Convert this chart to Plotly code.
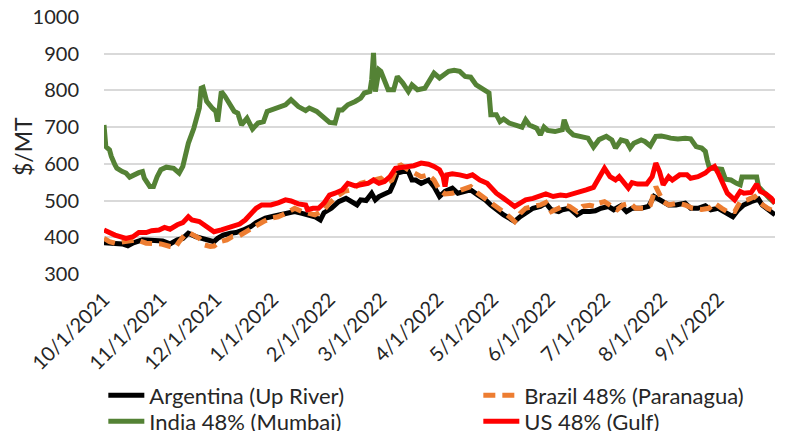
from datetime import date, timedelta
import plotly.graph_objects as go

START = date(2021, 10, 1)
END = date(2022, 10, 2)

# x-axis tick dates (first of each month)
tick_dates = [date(2021, 10, 1), date(2021, 11, 1), date(2021, 12, 1), date(2022, 1, 1),
              date(2022, 2, 1), date(2022, 3, 1), date(2022, 4, 1), date(2022, 5, 1),
              date(2022, 6, 1), date(2022, 7, 1), date(2022, 8, 1), date(2022, 9, 1)]

# Argentina (Up River): day offset from 10/1/2021, $/MT
arg_days = [0, 5, 10, 13, 16, 21, 27, 32, 36, 40, 43, 46, 50, 53, 56, 60, 62, 65, 69, 72, 76, 80, 83, 88, 93,
            99, 104, 108, 111, 115, 118, 120, 124, 128, 132, 138, 140, 143, 146, 148, 150, 153, 156, 158, 160,
            163, 166, 168, 170, 173, 177, 180, 183, 186, 190, 193, 197, 200, 204, 208, 211, 214, 218, 221, 224,
            227, 230, 234, 238, 241, 244, 248, 250, 254, 258, 261, 265, 268, 271, 275, 278, 282, 285, 288, 293,
            297, 300, 304, 308, 312, 317, 320, 324, 328, 331, 335, 338, 343, 346, 349, 353, 357, 359, 363, 366]
arg_vals = [385, 384, 382, 377, 385, 393, 393, 390, 382, 393, 397, 411, 402, 397, 393, 388, 397, 406, 411, 413,
            420, 429, 440, 452, 458, 465, 470, 465, 461, 456, 447, 467, 479, 497, 506, 488, 502, 500, 520, 502,
            511, 518, 525, 547, 575, 579, 579, 556, 556, 547, 556, 538, 511, 525, 534, 520, 525, 529, 515, 502,
            488, 475, 461, 452, 443, 456, 465, 479, 484, 493, 475, 470, 475, 479, 461, 470, 470, 472, 479, 484,
            475, 486, 470, 479, 479, 484, 511, 500, 488, 488, 493, 479, 479, 486, 475, 479, 470, 456, 475, 488,
            497, 504, 488, 470, 461]

# Brazil 48% (Paranagua)
bra_days = [0, 3, 6, 12, 18, 23, 27, 31, 36, 39, 41, 44, 47, 50, 52, 55, 58, 60, 63, 67, 70, 73, 76, 79, 83, 87,
            91, 95, 99, 104, 108, 111, 115, 120, 123, 127, 131, 135, 140, 144, 148, 151, 154, 157, 160, 162, 166,
            169, 173, 177, 180, 183, 186, 190, 193, 197, 200, 204, 208, 211, 215, 219, 222, 224, 227, 230, 234,
            238, 241, 244, 248, 251, 254, 258, 261, 265, 268, 270, 273, 277, 280, 283, 287, 290, 295, 298, 301,
            305, 308, 313, 317, 321, 326, 330, 333, 337, 340, 344, 347, 351, 355, 358, 362, 366]
bra_vals = [397, 388, 384, 388, 393, 384, 382, 382, 375, 373, 388, 406, 411, 402, 397, 379, 375, 376, 388, 393,
            402, 402, 411, 420, 434, 443, 452, 456, 465, 479, 470, 465, 461, 475, 493, 511, 525, 529, 547, 552,
            556, 561, 547, 556, 593, 597, 584, 575, 565, 570, 556, 529, 518, 520, 525, 534, 538, 520, 506, 493,
            479, 465, 452, 443, 465, 479, 484, 488, 495, 470, 479, 488, 484, 470, 484, 487, 484, 493, 497, 484,
            475, 488, 493, 479, 479, 488, 538, 497, 488, 493, 488, 479, 476, 479, 493, 479, 470, 470, 497, 502,
            511, 493, 479, 470]

# India 48% (Mumbai)
ind_days = [0, 1, 3, 4, 6, 7, 10, 12, 14, 16, 19, 21, 22, 25, 27, 29, 31, 34, 38, 41, 43, 46, 49, 52, 53, 54, 56,
            59, 61, 62, 64, 66, 68, 71, 73, 75, 78, 81, 84, 87, 89, 94, 97, 99, 102, 106, 110, 112, 116, 120, 123,
            126, 128, 130, 133, 137, 140, 142, 145, 146, 147, 148, 150, 151, 153, 155, 158, 160, 163, 166, 168,
            171, 175, 178, 180, 183, 188, 191, 194, 197, 200, 203, 207, 210, 211, 214, 216, 218, 221, 225, 228,
            230, 232, 236, 238, 240, 242, 246, 250, 251, 253, 256, 259, 261, 264, 267, 270, 274, 277, 279, 282,
            285, 287, 289, 293, 295, 298, 301, 304, 307, 309, 313, 317, 320, 323, 326, 328, 329, 330, 332, 337,
            339, 342, 345, 347, 348, 352, 356, 357, 360, 363, 366]
ind_vals = [706, 647, 638, 620, 597, 588, 579, 575, 564, 570, 576, 579, 561, 538, 538, 565, 584, 591, 588, 575,
            593, 656, 697, 752, 806, 808, 770, 752, 743, 715, 797, 784, 765, 743, 738, 706, 724, 695, 711, 715,
            743, 752, 761, 761, 775, 756, 745, 752, 743, 724, 713, 711, 747, 747, 761, 770, 779, 793, 797, 829,
            902, 797, 856, 852, 825, 802, 802, 838, 820, 797, 815, 802, 806, 834, 847, 834, 852, 855, 852, 838,
            836, 815, 802, 793, 734, 734, 715, 722, 711, 704, 700, 720, 706, 697, 679, 700, 691, 688, 693, 720,
            693, 679, 675, 675, 670, 646, 666, 675, 665, 643, 665, 661, 643, 656, 665, 661, 649, 675, 676, 673,
            670, 668, 670, 668, 647, 643, 634, 611, 593, 588, 585, 558, 556, 547, 543, 564, 564, 564, 538, 520,
            506, 493]

# US 48% (Gulf)
us_days = [0, 3, 6, 12, 16, 19, 23, 26, 30, 33, 36, 40, 43, 46, 48, 52, 56, 60, 64, 67, 70, 74, 77, 80, 83, 86,
           91, 95, 99, 102, 106, 110, 111, 114, 117, 120, 123, 126, 130, 133, 137, 140, 144, 147, 150, 153, 156,
           159, 162, 166, 169, 173, 177, 180, 183, 185, 186, 187, 190, 194, 198, 201, 205, 209, 211, 214, 218, 221,
           224, 227, 230, 234, 238, 241, 245, 249, 252, 256, 259, 263, 267, 270, 273, 276, 279, 281, 284, 286,
           288, 291, 296, 299, 301, 303, 305, 308, 310, 314, 318, 320, 324, 328, 330, 333, 335, 338, 340, 344,
           347, 349, 353, 356, 358, 361, 364, 366]
us_vals = [420, 413, 406, 397, 402, 413, 413, 418, 420, 427, 422, 434, 440, 456, 447, 443, 429, 415, 420, 425,
           431, 436, 447, 461, 479, 488, 488, 494, 502, 499, 491, 488, 475, 479, 479, 493, 515, 520, 529, 547,
           540, 543, 547, 556, 547, 552, 565, 588, 590, 593, 595, 602, 599, 593, 584, 565, 538, 570, 573, 570,
           565, 570, 556, 547, 534, 520, 506, 493, 484, 493, 502, 506, 511, 518, 511, 515, 513, 518, 525, 529,
           536, 565, 588, 565, 556, 565, 547, 534, 549, 545, 545, 565, 602, 579, 543, 565, 556, 570, 570, 561,
           565, 575, 584, 593, 575, 538, 520, 502, 525, 520, 522, 545, 525, 518, 506, 493]

series = [
    ("Argentina (Up River)", arg_days, arg_vals, "#000000", "solid", "legend"),
    ("Brazil 48% (Paranagua)", bra_days, bra_vals, "#ED7D31", "12px,7px", "legend"),
    ("India 48% (Mumbai)", ind_days, ind_vals, "#548235", "solid", "legend2"),
    ("US 48% (Gulf)", us_days, us_vals, "#FF0000", "solid", "legend2"),
]

FONT = "Lato, Calibri, Carlito, sans-serif"
TXT = "#262626"

fig = go.Figure()
for name, days, vals, color, dash, leg in series:
    fig.add_trace(go.Scatter(
        x=[START + timedelta(days=d) for d in days],
        y=vals,
        mode="lines",
        name=name,
        legend=leg,
        line=dict(color=color, width=5, dash=dash),
    ))

legend_common = dict(
    orientation="h", x=-0.001, xanchor="left", yanchor="middle",
    entrywidth=324, entrywidthmode="pixels", itemwidth=36,
    font=dict(family=FONT, size=22, color=TXT),
    tracegroupgap=0, itemclick=False, bgcolor="rgba(0,0,0,0)",
)

fig.update_layout(
    width=788, height=431,
    margin=dict(l=104, r=13, t=17, b=157, autoexpand=False),
    paper_bgcolor="white", plot_bgcolor="white",
    font=dict(family=FONT, size=20, color=TXT),
    showlegend=True,
    legend=dict(legend_common, y=-0.473),
    legend2=dict(legend_common, y=-0.574),
    xaxis=dict(
        type="date", range=[START, END], automargin=False,
        tickmode="array", tickvals=tick_dates, tickformat="%-m/%-d/%Y", tickangle=-45,
        showgrid=False, zeroline=False, showline=False, ticks="",
        ticklabelstandoff=9,
        tickfont=dict(family=FONT, size=20, color=TXT),
    ),
    yaxis=dict(
        range=[300, 1000], dtick=100, tick0=300, automargin=False,
        showgrid=True, gridcolor="#D9D9D9", gridwidth=1.5,
        zeroline=False, showline=False, ticks="",
        ticklabelstandoff=24,
        tickfont=dict(family=FONT, size=20, color=TXT),
    ),
    annotations=[dict(
        text="$/MT", textangle=-90, showarrow=False,
        xref="paper", yref="paper", x=-0.1207, y=0.494, xanchor="center", yanchor="middle",
        font=dict(family=FONT, size=23, color=TXT),
    )],
)

fig.write_html("out.html", config={"displayModeBar": False},
               post_script="document.body.style.margin='0';")
